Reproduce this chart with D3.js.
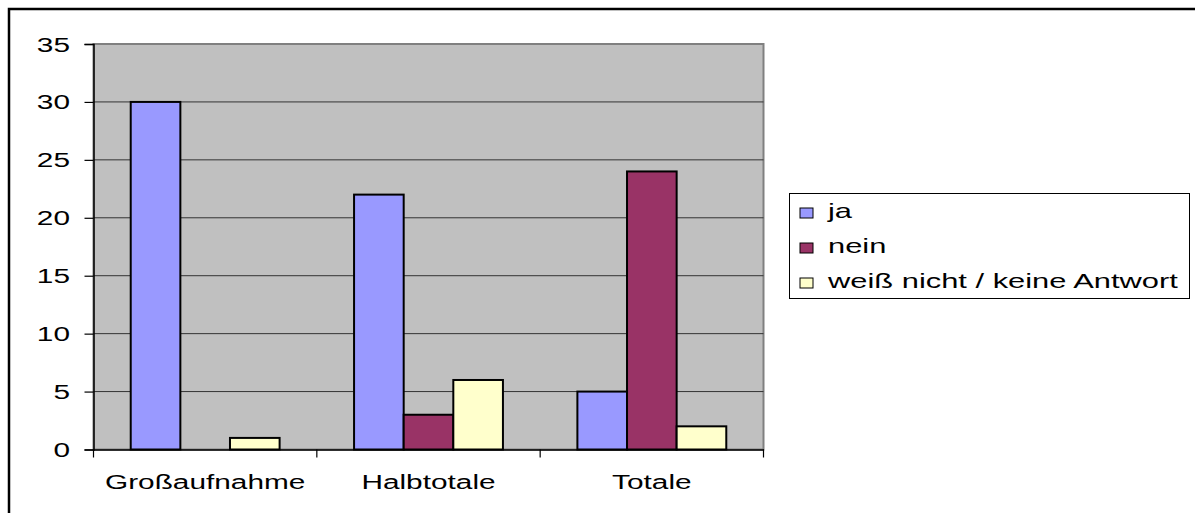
<!DOCTYPE html>
<html><head><meta charset="utf-8">
<script src="https://cdn.jsdelivr.net/npm/d3@7"></script>
<style>
html,body{margin:0;padding:0;background:#fff;}
svg{display:block;font-family:Arial,"Liberation Sans",sans-serif;}
</style></head>
<body>
<svg id="chart" width="1195" height="513"></svg>
<script>
const categories = ["Großaufnahme", "Halbtotale", "Totale"];
const seriesNames = ["ja", "nein", "weiß nicht / keine Antwort"];
const seriesColors = ["#9999FF", "#993366", "#FFFFCC"];
const valuesJa = [30, 22, 5];
const valuesNein = [0, 3, 24];
const valuesWeiss = [1, 6, 2];
const yTicks = [0, 5, 10, 15, 20, 25, 30, 35];

const seriesValues = [valuesJa, valuesNein, valuesWeiss];
const svg = d3.select("#chart");
const SX = 1.42; // horizontal text stretch

// outer frame
svg.append("rect").attr("x", 9).attr("y", 9).attr("width", 1220).attr("height", 540)
  .attr("fill", "#fff").attr("stroke", "#000").attr("stroke-width", 2.5);

const plot = {left: 93.5, right: 763.5, top: 44, bottom: 449.5};
const x0 = d3.scaleBand().domain(categories).range([plot.left, plot.right]).paddingInner(0).paddingOuter(0);
const groupW = x0.bandwidth() * 3 / 4.5;
const x1 = d3.scaleBand().domain(d3.range(3)).range([0, groupW]);
const y = d3.scaleLinear().domain([0, 35]).range([plot.bottom, plot.top]);

// plot background
svg.append("rect").attr("x", plot.left).attr("y", plot.top)
  .attr("width", plot.right - plot.left).attr("height", plot.bottom - plot.top)
  .attr("fill", "#C0C0C0").attr("stroke", "#808080").attr("stroke-width", 2);

// gridlines
svg.append("g").selectAll("line").data(yTicks.filter(d => d > 0 && d < 35)).join("line")
  .attr("x1", plot.left).attr("x2", plot.right)
  .attr("y1", d => y(d)).attr("y2", d => y(d))
  .attr("stroke", "#333").attr("stroke-width", 1);

// bars
const groups = svg.append("g").selectAll("g").data(categories).join("g")
  .attr("transform", c => `translate(${x0(c) + (x0.bandwidth() - groupW) / 2},0)`);
groups.selectAll("rect").data((c, ci) => seriesValues.map((vals, si) => ({si, v: vals[ci]})).filter(d => d.v > 0))
  .join("rect")
  .attr("x", d => x1(d.si)).attr("width", x1.bandwidth())
  .attr("y", d => y(d.v)).attr("height", d => y(0) - y(d.v))
  .attr("fill", d => seriesColors[d.si]).attr("stroke", "#000").attr("stroke-width", 2);

// y axis
const yAxis = d3.axisLeft(y).tickValues(yTicks).tickSize(9).tickPadding(0).tickFormat("");
const ya = svg.append("g").attr("transform", `translate(${plot.left},0)`).call(yAxis);
ya.select(".domain").attr("stroke", "#000").attr("stroke-width", 1.5);
ya.selectAll(".tick line").attr("stroke", "#000").attr("stroke-width", 1.2);
svg.append("g").selectAll("text").data(yTicks).join("text")
  .attr("transform", d => `translate(70,${y(d) + 7.5}) scale(${SX},1)`)
  .attr("text-anchor", "end").attr("font-size", 21).attr("fill", "#000")
  .text(d => d);

// x axis
const xa = svg.append("g").attr("transform", `translate(0,${plot.bottom})`)
  .call(d3.axisBottom(x0).tickValues([]).tickSizeOuter(0));
xa.select(".domain").attr("stroke", "#000").attr("stroke-width", 1.5);
const bounds = categories.map(c => x0(c)).concat([plot.right]);
svg.append("g").selectAll("line").data(bounds).join("line")
  .attr("x1", d => d).attr("x2", d => d).attr("y1", plot.bottom).attr("y2", plot.bottom + 8)
  .attr("stroke", "#000").attr("stroke-width", 1.2);
svg.append("g").selectAll("text").data(categories).join("text")
  .attr("transform", c => `translate(${x0(c) + x0.bandwidth() / 2},489) scale(${SX},1)`)
  .attr("text-anchor", "middle").attr("font-size", 21).attr("fill", "#000")
  .text(c => c);

// legend
const lg = svg.append("g");
lg.append("rect").attr("x", 789.5).attr("y", 193.5).attr("width", 400).attr("height", 105)
  .attr("fill", "#fff").attr("stroke", "#000").attr("stroke-width", 1);
const items = lg.selectAll("g.item").data(seriesNames).join("g").attr("class", "item")
  .attr("transform", (d, i) => `translate(0,${218 + i * 35})`);
items.append("rect").attr("x", 800).attr("y", -10).attr("width", 13).attr("height", 10)
  .attr("fill", (d, i) => seriesColors[i]).attr("stroke", "#000").attr("stroke-width", 1);
items.append("text").attr("transform", `translate(828,0) scale(1.47,1)`)
  .attr("font-size", 21).attr("fill", "#000").text(d => d);
</script>
</body></html>
